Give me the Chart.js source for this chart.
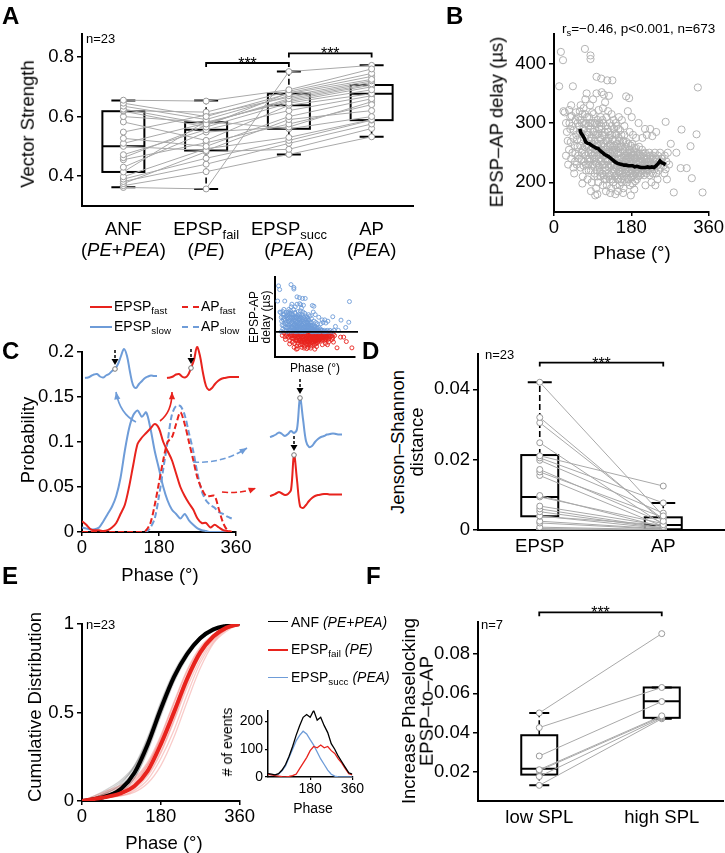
<!DOCTYPE html>
<html><head><meta charset="utf-8">
<script src="https://cdn.jsdelivr.net/npm/chart.js@4.4.1/dist/chart.umd.min.js"></script>
<style>
html,body{margin:0;padding:0;background:#fff;}
#root{position:relative;width:725px;height:853px;overflow:hidden;font-family:'Liberation Sans',Arial,sans-serif;color:#000;background:#fff;}
canvas{position:absolute;}
.t{position:absolute;white-space:nowrap;line-height:1;transform:translate(-50%,-50%);}
.l{position:absolute;white-space:nowrap;line-height:1;transform:translate(0,-50%);}
.r{position:absolute;white-space:nowrap;line-height:1;transform:translate(-50%,-50%) rotate(-90deg);text-align:center;}
.letter{position:absolute;font-weight:bold;font-size:24px;line-height:1;}
.ln{position:absolute;height:0;}
sub{font-size:0.7em;position:relative;top:0.3em;vertical-align:baseline;line-height:0;}
i{font-style:italic;}
</style></head>
<body><div id="root"></div>
<script>
// ===================== DATA =====================
// Panel A: vector strength, one entry per unit (n=23)
const aCategories = ['ANF', 'EPSP_fail', 'EPSP_succ', 'AP'];
const aANF  = [0.655,0.645,0.635,0.625,0.62,0.618,0.60,0.582,0.548,0.527,0.51,0.50,0.472,0.462,0.455,0.43,0.414,0.398,0.39,0.382,0.375,0.368,0.362];
const aFail = [0.652,0.60,0.59,0.575,0.615,0.565,0.581,0.52,0.605,0.50,0.578,0.486,0.556,0.57,0.512,0.548,0.585,0.492,0.46,0.44,0.482,0.415,0.357];
const aSucc = [0.69,0.677,0.67,0.66,0.685,0.645,0.65,0.638,0.665,0.60,0.655,0.59,0.62,0.68,0.575,0.565,0.559,0.53,0.52,0.51,0.49,0.473,0.751];
const aAP   = [0.76,0.725,0.72,0.71,0.745,0.69,0.70,0.677,0.715,0.66,0.706,0.62,0.67,0.735,0.64,0.65,0.60,0.59,0.588,0.575,0.56,0.532,0.772];
const aQ1  = [0.414,0.486,0.559,0.588];
const aMed = [0.500,0.556,0.638,0.677];
const aQ3  = [0.618,0.581,0.677,0.706];
const aLo  = [0.363,0.357,0.473,0.532];
const aHi  = [0.654,0.654,0.751,0.772];
const aYTicks = [0.4,0.6,0.8];
const aYLabels = ['0.4','0.6','0.8'];

// Panel B: EPSP-AP delay (µs) vs phase (°)
const bScatter = [
[22,320],[25,318],[28,300],[30,285],[32,270],[35,255],[38,310],[40,240],[42,295],[45,275],[45,225],[48,262],[50,305],[50,248],[35,322],[40,330],[28,245],[33,230],[47,215],[38,290],
[52,280],[55,300],[55,260],[58,240],[60,320],[60,285],[62,225],[63,270],[65,300],[65,250],[67,210],[68,290],[70,275],[70,235],[72,315],[72,260],[74,245],[75,300],[75,220],[77,280],[78,265],[78,205],[80,295],[80,250],[80,230],[57,310],[62,330],[69,325],[73,340],[76,350],[53,230],[66,198],
[82,310],[82,270],[83,240],[85,290],[85,255],[86,220],[88,300],[88,275],[88,200],[90,265],[90,245],[92,315],[92,230],[93,285],[94,210],[95,270],[95,250],[96,300],[97,235],[98,260],[98,190],[100,280],[100,245],[100,220],[102,305],[102,265],[103,200],[104,240],[105,290],[105,255],[106,225],[107,275],[108,210],[108,250],[110,295],[110,265],[110,235],[84,330],[91,340],[99,350],[104,322],[109,310],[86,185],[96,178],[101,180],
[112,280],[112,215],[113,250],[114,195],[115,300],[115,265],[116,230],[117,245],[118,285],[118,205],[120,270],[120,240],[120,220],[122,310],[122,255],[123,195],[124,235],[125,290],[125,260],[126,210],[127,245],[128,275],[128,225],[130,300],[130,250],[130,205],[132,265],[132,230],[133,190],[135,280],[135,245],[135,215],[137,260],[138,235],[138,200],[140,290],[140,250],[140,222],[114,325],[119,335],[126,320],[134,315],[139,305],[121,185],[131,182],[111,352],[116,348],[128,346],
[142,270],[142,210],[143,240],[144,195],[145,280],[145,255],[146,225],[147,265],[148,205],[148,240],[150,290],[150,250],[150,218],[152,270],[152,232],[153,195],[155,260],[155,240],[155,212],[157,280],[157,225],[158,200],[160,255],[160,235],[160,215],[162,270],[162,190],[163,245],[165,228],[165,205],[167,260],[167,238],[168,215],[170,250],[170,230],[170,200],[144,300],[151,310],[158,305],[164,295],[149,185],[161,182],[143,180],
[172,245],[172,218],[173,265],[174,205],[175,235],[175,225],[176,255],[177,195],[178,240],[178,215],[180,250],[180,230],[180,208],[182,265],[182,222],[183,198],[185,245],[185,232],[186,212],[187,258],[188,225],[189,202],[190,240],[190,218],[192,250],[192,230],[193,205],[195,245],[195,222],[196,210],[198,235],[198,260],[200,225],[200,212],[176,285],[184,280],[191,275],[197,300],[179,178],[187,188],[172,320],[181,310],
[202,245],[203,228],[204,215],[205,255],[206,235],[207,220],[208,242],[210,230],[210,212],[212,250],[213,225],[214,238],[215,215],[217,245],[218,228],[220,235],[220,220],[222,250],[223,212],[225,240],[226,225],[228,230],[230,245],[230,215],[232,232],[234,222],[235,250],[237,238],[238,215],[240,228],[242,245],[244,220],[245,235],[247,250],[248,225],[250,240],[206,275],[212,290],[216,280],[224,290],[229,278],[238,285],[213,195],[227,200],[241,205],[236,195],
[252,240],[255,228],[258,245],[260,222],[262,235],[265,250],[268,230],[257,215],[263,205],
[36,300],[39,268],[41,312],[43,250],[46,288],[49,235],[51,318],[54,272],[56,245],[59,295],[61,262],[61,305],[64,238],[64,282],[66,315],[67,255],[69,228],[71,298],[71,248],[73,278],[74,230],[76,262],[77,310],[79,240],[79,285],[81,220],[81,260],[84,300],[84,235],[86,270],[87,248],[89,318],[89,228],[91,285],[91,258],[93,240],[94,300],[95,215],[97,280],[97,255],[99,232],[99,298],[101,262],[101,210],[103,282],[104,228],[106,300],[106,248],[107,218],[109,272],[109,238],[111,290],[111,255],[113,230],[113,305],[115,245],[116,212],[117,278],[118,260],[119,225],[121,295],[121,248],[122,205],[123,270],[124,228],[126,285],[126,252],[127,215],[129,262],[129,238],[131,280],[131,212],[132,248],[134,228],[134,295],[136,255],[136,205],[137,272],[139,240],[139,218],[141,262],[141,230],[143,282],[144,212],[146,248],[146,295],[147,228],[149,258],[149,205],[151,240],[151,275],[153,218],[154,250],[154,288],[156,230],[156,205],[157,262],[159,242],[159,220],[161,268],[161,228],[163,210],[164,252],[164,280],[166,235],[166,215],[168,245],[169,268],[169,222],[171,238],[171,208],[173,250],[174,228],[176,242],[177,215],[179,262],[179,232],[181,220],[181,245],[183,210],[184,238],[186,252],[186,225],[188,240],[189,215],[191,232],[191,258],[193,222],[194,242],[196,230],[197,215],[199,248],[201,235],[201,218],[203,240],[205,228],[207,248],[209,222],[211,238],[214,228],[216,240],[219,222],[221,232],[224,245],[227,218],[231,238],[233,228],[239,240],[243,230],
[16,420],[21,406],[12,362],[44,362],[72,425],[85,414],[85,408],[99,378],[136,372],[168,345],[175,342],[260,302],[279,183],[295,224],[297,289],[309,224],[318,261],[321,207],[332,281],[335,360],[346,183],[110,375],[124,372],[285,250],[272,265]
];
const bLinePhase = [60,63,66,70,74,78,83,88,93,98,103,108,113,118,123,128,133,138,143,148,153,158,163,168,173,178,183,188,193,198,203,208,213,218,223,228,233,238,243,247,251,255,260];
const bLineDelay = [290,283,280,275,268,266,265,262,260,258,257,253,250,247,245,243,240,237,234,232,231,230,229,229,228,228,228,226,227,226,225,225,225,226,225,226,225,228,232,236,233,232,230];
const bXTicks = [0,180,360];
const bYTicks = [200,300,400];

// Panel C: phase probability distributions
const cPhase = [0,10,20,30,40,50,60,70,80,90,100,110,120,130,140,150,160,170,180,190,200,210,220,230,240,250,260,270,280,290,300,310,320,330,340,350];
const cEpspFast = [0.012,0.008,0.003,0.002,0.002,0.001,0.002,0.005,0.01,0.02,0.03,0.05,0.075,0.098,0.105,0.11,0.115,0.12,0.115,0.1,0.09,0.08,0.065,0.05,0.04,0.032,0.025,0.015,0.01,0.01,0.005,0.008,0.005,0.002,0.001,0];
const cEpspSlow = [0.005,0.004,0.003,0.003,0.005,0.012,0.02,0.028,0.04,0.06,0.09,0.115,0.13,0.135,0.128,0.133,0.115,0.09,0.07,0.05,0.035,0.025,0.02,0.015,0.02,0.013,0.008,0.004,0.002,0.001,0,0,0,0,0,0];
const cApFast = [0,0,0,0,0,0,0,0,0,0,0,0,0,0,0,0.002,0.01,0.03,0.055,0.08,0.1,0.105,0.12,0.133,0.12,0.1,0.08,0.06,0.048,0.04,0.04,0.04,0.025,0.01,0.002,0];
const cApSlow = [0,0,0,0,0,0,0,0,0,0,0,0,0,0,0,0,0.005,0.015,0.04,0.07,0.1,0.13,0.14,0.14,0.13,0.11,0.09,0.065,0.045,0.035,0.03,0.027,0.022,0.02,0.017,0.015];
const cYTicks = [0,0.05,0.1,0.15,0.2];
const cYLabels = ['0','0.05','0.1','0.15','0.2'];
const cInsetSplit = 244; // delay separating fast (red) from slow (blue)
// example membrane-potential traces (relative units, evenly sampled)
const traceSlowTop  = [0,0.5,2,3.5,4,1.5,0.5,2.5,4,7,9,14,22,29,22,6,-7,-10,-6,-3,0,1.5,2.5,2,2];
const traceFastTop  = [0,0.5,1.5,3.5,4,1.5,0.5,3,10,18,31,22,5,-8,-12,-10,-6,-3,-1,0,0.5,1,1,1,1];
const traceSlowRight= [0,1,2.5,4.5,3,1,3,6,4,8,39,18,-4,-10,-9,-5,-2,0,1,2.5,3,3.5,3,2.5,2.5];
const traceFastRight= [0,1,2.5,4,2.5,1,2,6,41,16,-10,-12,-9,-5,-2,0,1,1.5,2,2,1.5,1.5,1.5,1.5,1.5];

// Panel D: Jenson-Shannon distance, per unit
const dCategories = ['EPSP','AP'];
const dEPSP = [0.042,0.032,0.0305,0.0248,0.0211,0.0205,0.0198,0.0172,0.0165,0.0155,0.0098,0.0094,0.0068,0.006,0.0052,0.004,0.0039,0.0025,0.002,0.0008,0.0004,0.0002,0.0001];
const dAP   = [0.004,0.0025,0.003,0.0015,0.0125,0.0077,0.0048,0.002,0.0036,0.001,0.0008,0.0018,0.0012,0.0006,0.0005,0.0004,0.0014,0.0003,0.0002,0.0001,0.0001,0,0];
const dQ1 = [0.0039,0.0002], dMed = [0.0094,0.0014], dQ3 = [0.0213,0.0036], dLo = [0,0], dHi = [0.042,0.0077];
const dYTicks = [0,0.02,0.04];
const dYLabels = ['0','0.02','0.04'];

// Panel E: cumulative phase distributions
const ePhase = [0,30,60,90,120,150,180,210,240,270,300,330,360];
const eANFMean  = [0,0.01,0.03,0.07,0.16,0.32,0.52,0.70,0.83,0.92,0.97,0.99,1];
const eFailMean = [0,0.012,0.025,0.045,0.085,0.17,0.32,0.50,0.69,0.84,0.93,0.98,1];
const eANFUnits = [
 [0,0.02,0.05,0.10,0.20,0.36,0.56,0.73,0.85,0.93,0.97,0.99,1],
 [0,0.01,0.03,0.08,0.18,0.35,0.55,0.72,0.84,0.92,0.97,0.99,1],
 [0,0.02,0.04,0.06,0.13,0.28,0.48,0.67,0.81,0.91,0.96,0.99,1],
 [0,0.03,0.07,0.12,0.20,0.34,0.53,0.71,0.84,0.93,0.97,0.99,1],
 [0,0.01,0.02,0.05,0.13,0.29,0.50,0.69,0.83,0.92,0.97,0.99,1],
 [0,0.02,0.05,0.09,0.17,0.31,0.50,0.68,0.82,0.91,0.96,0.99,1],
 [0,0.01,0.03,0.07,0.15,0.30,0.49,0.68,0.82,0.91,0.96,0.99,1],
 [0,0.02,0.06,0.11,0.19,0.33,0.52,0.70,0.83,0.92,0.97,0.99,1]
];
const eFailUnits = [
 [0,0.01,0.02,0.04,0.08,0.16,0.30,0.48,0.67,0.82,0.92,0.97,1],
 [0,0.02,0.04,0.06,0.10,0.20,0.36,0.55,0.73,0.86,0.94,0.98,1],
 [0,0.01,0.02,0.03,0.06,0.12,0.24,0.40,0.60,0.78,0.90,0.97,1],
 [0,0.03,0.06,0.09,0.13,0.22,0.37,0.56,0.74,0.87,0.94,0.98,1],
 [0,0.01,0.02,0.04,0.07,0.14,0.27,0.45,0.64,0.80,0.91,0.97,1],
 [0,0.02,0.03,0.05,0.09,0.18,0.33,0.52,0.70,0.84,0.93,0.98,1],
 [0,0.01,0.02,0.03,0.05,0.10,0.20,0.36,0.56,0.75,0.89,0.96,1],
 [0,0.02,0.05,0.08,0.12,0.21,0.35,0.53,0.71,0.85,0.93,0.98,1],
 [0,0.01,0.03,0.05,0.08,0.15,0.28,0.46,0.66,0.82,0.92,0.97,1],
 [0,0.02,0.04,0.06,0.11,0.20,0.34,0.52,0.70,0.84,0.93,0.98,1]
];
const eHistPhase = [0,15,30,45,60,75,90,105,120,135,150,165,180,195,210,225,240,255,270,285,300,315,330,345,360];
const eHistANF  = [12,10,8,12,25,45,75,110,150,185,215,225,215,240,205,215,185,160,120,100,75,55,35,15,10];
const eHistSucc = [12,8,6,10,22,40,70,100,130,150,165,155,135,115,90,65,45,25,10,3,0,0,0,0,0];
const eHistFail = [10,8,5,3,1,0,2,5,10,30,50,70,95,110,105,115,105,110,95,85,65,50,30,12,8];

// Panel F: increase in phase-locking EPSP-to-AP
const fCategories = ['low SPL','high SPL'];
const fLow  = [0.05,0.0425,0.028,0.021,0.0205,0.0175,0.013];
const fHigh = [0.0905,0.063,0.0558,0.0485,0.048,0.0475,0.047];
const fQ1 = [0.0185,0.0475], fMed = [0.0215,0.056], fQ3 = [0.0386,0.063], fLo = [0.013,0.047], fHi = [0.05,0.063];
const fYTicks = [0.02,0.04,0.06,0.08];
const fYLabels = ['0.02','0.04','0.06','0.08'];

// ===================== SETUP =====================
const FONT = "'Liberation Sans', Arial, sans-serif";
Chart.defaults.font.family = FONT;
Chart.defaults.color = '#000';
Chart.defaults.animation = false;
Chart.defaults.responsive = false;
Chart.defaults.maintainAspectRatio = false;
Chart.defaults.devicePixelRatio = 1;
Chart.defaults.events = [];
Chart.defaults.plugins.legend.display = false;
Chart.defaults.plugins.tooltip.enabled = false;

const RED = '#e8231d', BLUE = '#6e9cd8', GRAY = '#a9a9a9';
const root = document.getElementById('root');

function mkCanvas(left, top, w, h) {
  const c = document.createElement('canvas');
  c.width = w; c.height = h;
  c.style.left = left + 'px'; c.style.top = top + 'px';
  c.style.width = w + 'px'; c.style.height = h + 'px';
  root.appendChild(c);
  return c;
}
function txt(html, x, y, size, cls, extra) {
  const d = document.createElement('div');
  d.className = cls || 't';
  d.innerHTML = html;
  d.style.left = x + 'px'; d.style.top = y + 'px'; d.style.fontSize = size + 'px';
  if (extra) d.style.cssText += extra;
  root.appendChild(d);
  return d;
}
function letter(ch, x, y) { const d = txt(ch, x, y, 24, 'letter'); return d; }
function legendLine(x, y, w, color, dashed, lw) {
  const d = document.createElement('div');
  d.className = 'ln';
  d.style.left = x + 'px'; d.style.top = (y - (lw||2)/2) + 'px'; d.style.width = w + 'px';
  d.style.borderTop = (lw||2) + 'px ' + (dashed ? 'dashed ' : 'solid ') + color;
  root.appendChild(d);
}
function linAxis(min, max, ticks, labels, size, fit, opts) {
  opts = opts || {};
  return {
    type: 'linear', min: min, max: max,
    afterBuildTicks: s => { s.ticks = ticks.map(v => ({ value: v })); },
    afterFit: s => { if (s.isHorizontal()) s.height = fit; else s.width = fit; },
    ticks: { display: opts.noLabels ? false : true, font: { size: size }, padding: opts.pad == null ? 3 : opts.pad,
             autoSkip: false, maxRotation: 0, callback: (v, i) => labels ? labels[i] : v },
    grid: { display: opts.noTicks ? false : true, drawOnChartArea: false, drawTicks: true,
            tickLength: opts.tl == null ? 5 : opts.tl, color: '#000', lineWidth: opts.tw || 1.5 },
    border: { display: true, color: '#000', width: opts.bw || 2 }
  };
}
function catAxis(labels, size, fit, showLabels, pad) {
  return {
    type: 'category', labels: labels, offset: true,
    afterFit: s => { s.height = fit; },
    ticks: { display: showLabels, font: { size: size }, padding: pad || 0, autoSkip: false, maxRotation: 0 },
    grid: { display: false, drawTicks: false },
    border: { display: true, color: '#000', width: 2 }
  };
}
// box-and-whisker drawing through the chart scales
function boxPlugin(q1, med, q3, lo, hi, half, cap) {
  return { id: 'boxes', beforeDatasetsDraw(chart) {
    const { ctx } = chart; const xs = chart.scales.x, ys = chart.scales.y;
    ctx.save(); ctx.strokeStyle = '#000';
    for (let i = 0; i < q1.length; i++) {
      const cx = xs.getPixelForValue(i);
      const yq1 = ys.getPixelForValue(q1[i]), yq3 = ys.getPixelForValue(q3[i]);
      const ym = ys.getPixelForValue(med[i]), ylo = ys.getPixelForValue(lo[i]), yhi = ys.getPixelForValue(hi[i]);
      ctx.lineWidth = 1.6; ctx.setLineDash([6, 3]);
      ctx.beginPath(); ctx.moveTo(cx, yq3); ctx.lineTo(cx, yhi); ctx.moveTo(cx, yq1); ctx.lineTo(cx, ylo); ctx.stroke();
      ctx.setLineDash([]); ctx.lineWidth = 2;
      ctx.beginPath(); ctx.moveTo(cx - cap, yhi); ctx.lineTo(cx + cap, yhi); ctx.moveTo(cx - cap, ylo); ctx.lineTo(cx + cap, ylo); ctx.stroke();
      ctx.strokeRect(cx - half, yq3, 2 * half, yq1 - yq3);
      ctx.beginPath(); ctx.moveTo(cx - half, ym); ctx.lineTo(cx + half, ym); ctx.stroke();
    }
    ctx.restore();
  } };
}
// significance brackets: [fromIndex, toIndex, yValue]
function bracketPlugin(list) {
  return { id: 'brackets', afterDraw(chart) {
    const { ctx } = chart; const xs = chart.scales.x, ys = chart.scales.y;
    ctx.save(); ctx.strokeStyle = '#000'; ctx.fillStyle = '#000'; ctx.lineWidth = 1.8;
    ctx.font = '16px ' + FONT; ctx.textAlign = 'center'; ctx.textBaseline = 'alphabetic';
    list.forEach(b => {
      const x1 = xs.getPixelForValue(b[0]), x2 = xs.getPixelForValue(b[1]), y = ys.getPixelForValue(b[2]);
      ctx.beginPath(); ctx.moveTo(x1, y + 4); ctx.lineTo(x1, y); ctx.lineTo(x2, y); ctx.lineTo(x2, y + 4); ctx.stroke();
      ctx.fillText('***', (x1 + x2) / 2, y + 6);
    });
    ctx.restore();
  } };
}
function pairedDatasets(groups) {
  const n = groups[0].length, out = [];
  for (let u = 0; u < n; u++) {
    out.push({ data: groups.map(g => g[u]), borderColor: GRAY, borderWidth: 1, tension: 0,
      pointRadius: 3, pointBackgroundColor: '#fff', pointBorderColor: '#9a9a9a', pointBorderWidth: 1 });
  }
  return out;
}

// ===================== PANEL A =====================
const cA = mkCanvas(36, 20, 390, 200);
const chartA = new Chart(cA, {
  type: 'line',
  data: { labels: aCategories, datasets: pairedDatasets([aANF, aFail, aSucc, aAP]) },
  options: {
    layout: { padding: { top: 13, right: 13, left: 0, bottom: 0 }, autoPadding: false },
    scales: { x: catAxis(aCategories, 18, 8, false), y: linAxis(0.3, 0.877, aYTicks, aYLabels, 18.5, 46) }
  },
  plugins: [boxPlugin(aQ1, aMed, aQ3, aLo, aHi, 21, 12), bracketPlugin([[1, 2, 0.78], [2, 3, 0.812]])]
});
{
  const xs = chartA.scales.x;
  const labs = [['ANF', '(<i>PE</i>+<i>PEA</i>)'], ['EPSP<sub>fail</sub>', '(<i>PE</i>)'], ['EPSP<sub>succ</sub>', '(<i>PE</i>A)'], ['AP', '(<i>PE</i>A)']];
  labs.forEach((l, i) => {
    const x = 36 + xs.getPixelForValue(i);
    txt(l[0], x, 229, 18.5); txt(l[1], x, 250, 18.5);
  });
}
txt('Vector Strength', 28, 124, 18.5, 'r');
txt('n=23', 86, 38, 13, 'l');
letter('A', 2, 4);

// ===================== PANEL B =====================
const cB = mkCanvas(495, 20, 230, 225);
new Chart(cB, {
  type: 'scatter',
  data: { datasets: [
    { type: 'line', data: bLinePhase.map((p, i) => ({ x: p, y: bLineDelay[i] })), borderColor: '#000', borderWidth: 3.6, pointRadius: 0, tension: 0 },
    { data: bScatter.map(p => ({ x: p[0], y: p[1] })), pointRadius: 3.6, pointBorderWidth: 1, pointBorderColor: '#b3b3b3', pointBackgroundColor: 'rgba(0,0,0,0)' }
  ] },
  options: {
    layout: { padding: { top: 12, right: 15, left: 0, bottom: 0 }, autoPadding: false },
    scales: {
      x: linAxis(0, 360, bXTicks, ['0', '180', '360'], 18.5, 33, { tl: 4, pad: 1 }),
      y: linAxis(150, 450, bYTicks, ['200', '300', '400'], 18.5, 59)
    }
  }
});
txt('EPSP–AP delay (µs)', 497, 122, 18.5, 'r');
txt('Phase (°)', 632, 253, 18.5);
txt('r<sub>s</sub>=−0.46, p&lt;0.001, n=673', 562, 29, 13.5, 'l');
letter('B', 446, 4);

// ===================== PANEL C =====================
const cArrows = [ // [x0,y0,cx,cy,x1,y1,color,dashed]
  [136, 422, 120, 414, 116, 392, BLUE, false],
  [160, 421, 172, 412, 172, 392, RED, false],
  [193, 462, 222, 464, 247, 448, BLUE, true],
  [222, 492, 240, 494, 256, 488, RED, true]
];
const cC = mkCanvas(0, 280, 360, 290);
new Chart(cC, {
  type: 'line',
  data: { datasets: [
    { data: cPhase.map((p, i) => ({ x: p, y: cEpspFast[i] })), borderColor: RED, borderWidth: 2, pointRadius: 0, tension: 0.3 },
    { data: cPhase.map((p, i) => ({ x: p, y: cApFast[i] })), borderColor: RED, borderWidth: 2, borderDash: [6, 3], pointRadius: 0, tension: 0.3 },
    { data: cPhase.map((p, i) => ({ x: p, y: cEpspSlow[i] })), borderColor: BLUE, borderWidth: 2, pointRadius: 0, tension: 0.3 },
    { data: cPhase.map((p, i) => ({ x: p, y: cApSlow[i] })), borderColor: BLUE, borderWidth: 2, borderDash: [6, 3], pointRadius: 0, tension: 0.3 }
  ] },
  options: {
    layout: { padding: { top: 72, right: 124, left: 0, bottom: 0 }, autoPadding: false },
    scales: {
      x: linAxis(0, 360, [0, 180, 360], ['0', '180', '360'], 18.5, 38, { tl: 4, pad: 1 }),
      y: linAxis(0, 0.2, cYTicks, cYLabels, 18.5, 82)
    }
  },
  plugins: [{ id: 'arrows', afterDraw(chart) {
    const ctx = chart.ctx; ctx.save(); ctx.lineWidth = 1.6;
    cArrows.forEach(a => {
      const oy = 280;
      ctx.strokeStyle = a[6]; ctx.fillStyle = a[6];
      ctx.setLineDash(a[7] ? [6, 3] : []);
      ctx.beginPath(); ctx.moveTo(a[0], a[1] - oy); ctx.quadraticCurveTo(a[2], a[3] - oy, a[4], a[5] - oy); ctx.stroke();
      ctx.setLineDash([]);
      const ang = Math.atan2(a[5] - a[3], a[4] - a[2]);
      ctx.beginPath(); ctx.moveTo(a[4], a[5] - oy);
      ctx.lineTo(a[4] - 8 * Math.cos(ang - 0.4), a[5] - oy - 8 * Math.sin(ang - 0.4));
      ctx.lineTo(a[4] - 8 * Math.cos(ang + 0.4), a[5] - oy - 8 * Math.sin(ang + 0.4));
      ctx.closePath(); ctx.fill();
    });
    ctx.restore();
  } }]
});
// traces
function traceChart(trace, marker, color, x0, baseY) {
  const c = mkCanvas(x0 - 4, baseY - 64, 80, 82);
  new Chart(c, {
    type: 'line',
    data: { labels: trace.map((_, i) => i), datasets: [{ data: trace, borderColor: color, borderWidth: 2, tension: 0.35,
      pointRadius: trace.map((_, i) => i === marker ? 2.3 : 0), pointBackgroundColor: '#fff', pointBorderColor: '#777', pointBorderWidth: 1 }] },
    options: { layout: { padding: 4, autoPadding: false },
      scales: { x: { type: 'category', display: false, offset: false }, y: { type: 'linear', min: -14, max: 60, display: false } } },
    plugins: [{ id: 'mark', afterDraw(chart) {
      const p = chart.getDatasetMeta(0).data[marker]; const ctx = chart.ctx;
      ctx.save(); ctx.strokeStyle = '#000'; ctx.fillStyle = '#000'; ctx.lineWidth = 1.5;
      ctx.setLineDash([3, 2]); ctx.beginPath(); ctx.moveTo(p.x, p.y - 19); ctx.lineTo(p.x, p.y - 10); ctx.stroke();
      ctx.setLineDash([]); ctx.beginPath(); ctx.moveTo(p.x - 3.5, p.y - 10); ctx.lineTo(p.x + 3.5, p.y - 10); ctx.lineTo(p.x, p.y - 4); ctx.closePath(); ctx.fill();
      ctx.restore();
    } }]
  });
}
traceChart(traceSlowTop, 10, BLUE, 85, 378);
traceChart(traceFastTop, 8, RED, 167, 378);
traceChart(traceSlowRight, 10, BLUE, 270, 437);
traceChart(traceFastRight, 8, RED, 270, 496);
// inset scatter
const cCi = mkCanvas(240, 272, 122, 100);
new Chart(cCi, {
  type: 'scatter',
  data: { datasets: [
    { data: bScatter.filter(p => p[1] >= cInsetSplit).map(p => ({ x: p[0], y: p[1] })), pointRadius: 2, pointBorderWidth: 0.9, pointBorderColor: BLUE, pointBackgroundColor: 'rgba(0,0,0,0)' },
    { data: bScatter.filter(p => p[1] < cInsetSplit).map(p => ({ x: p[0], y: p[1] })), pointRadius: 2, pointBorderWidth: 0.9, pointBorderColor: RED, pointBackgroundColor: 'rgba(0,0,0,0)' }
  ] },
  options: {
    layout: { padding: { top: 5, right: 7, left: 0, bottom: 0 }, autoPadding: false },
    scales: {
      x: linAxis(0, 360, [], [], 10, 15, { noLabels: true, noTicks: true }),
      y: linAxis(148, 454, [], [], 10, 35, { noLabels: true, noTicks: true })
    }
  },
  plugins: [{ id: 'split', afterDraw(chart) {
    const ctx = chart.ctx, y = chart.scales.y.getPixelForValue(cInsetSplit), a = chart.chartArea;
    ctx.save(); ctx.strokeStyle = '#000'; ctx.lineWidth = 1.6; ctx.beginPath(); ctx.moveTo(a.left, y); ctx.lineTo(a.right + 3, y); ctx.stroke(); ctx.restore();
  } }]
});
txt('EPSP-AP', 254, 317, 12, 'r');
txt('delay (µs)', 266, 317, 12, 'r');
txt('Phase (°)', 315, 368, 12);
// legend
legendLine(90, 307, 22, RED, false, 2); txt('EPSP<sub>fast</sub>', 114, 306, 14, 'l');
legendLine(182, 307, 17, RED, true, 2); txt('AP<sub>fast</sub>', 201, 306, 14, 'l');
legendLine(90, 327, 22, BLUE, false, 2); txt('EPSP<sub>slow</sub>', 114, 326, 14, 'l');
legendLine(182, 327, 17, BLUE, true, 2); txt('AP<sub>slow</sub>', 201, 326, 14, 'l');
txt('Probability', 28, 440, 18.5, 'r');
txt('Phase (°)', 160, 575, 18.5);
letter('C', 2, 339);

// ===================== PANEL D =====================
const cD = mkCanvas(420, 340, 305, 222);
new Chart(cD, {
  type: 'line',
  data: { labels: dCategories, datasets: pairedDatasets([dEPSP, dAP]) },
  options: {
    layout: { padding: { top: 12, right: 0, left: 0, bottom: 0 }, autoPadding: false },
    scales: { x: catAxis(dCategories, 18.5, 32, true, 6), y: linAxis(0, 0.05, dYTicks, dYLabels, 18.5, 58) }
  },
  plugins: [boxPlugin(dQ1, dMed, dQ3, dLo, dHi, 18.5, 12), bracketPlugin([[0, 1, 0.0476]])]
});
txt('Jenson–Shannon', 398, 442, 18.5, 'r');
txt('distance', 417, 442, 18.5, 'r');
txt('n=23', 485, 354, 13, 'l');
letter('D', 362, 339);

// ===================== PANEL E =====================
const cE = mkCanvas(30, 610, 226, 220);
const eSets = [];
eSets.push({ data: ePhase.map((p, i) => ({ x: p, y: eFailMean[i] })), borderColor: RED, borderWidth: 4, pointRadius: 0, cubicInterpolationMode: 'monotone' });
eSets.push({ data: ePhase.map((p, i) => ({ x: p, y: eANFMean[i] })), borderColor: '#000', borderWidth: 4, pointRadius: 0, cubicInterpolationMode: 'monotone' });
eFailUnits.forEach(u => eSets.push({ data: ePhase.map((p, i) => ({ x: p, y: u[i] })), borderColor: 'rgba(235,70,60,0.28)', borderWidth: 1.3, pointRadius: 0, cubicInterpolationMode: 'monotone' }));
eANFUnits.forEach(u => eSets.push({ data: ePhase.map((p, i) => ({ x: p, y: u[i] })), borderColor: 'rgba(70,70,70,0.25)', borderWidth: 1.3, pointRadius: 0, cubicInterpolationMode: 'monotone' }));
new Chart(cE, {
  type: 'line',
  data: { datasets: eSets },
  options: {
    layout: { padding: { top: 13, right: 10, left: 0, bottom: 0 }, autoPadding: false },
    scales: {
      x: linAxis(0, 360, [0, 180, 360], ['0', '180', '360'], 18.5, 29, { tl: 4, pad: 1 }),
      y: linAxis(0, 1, [0, 0.5, 1], ['0', '0.5', '1'], 18.5, 52)
    }
  }
});
txt('Cumulative Distribution', 35, 707, 18.5, 'r');
txt('Phase (°)', 164, 843, 18.5);
txt('n=23', 86, 624, 13, 'l');
legendLine(268, 622, 20, '#000', false, 1.5); txt('ANF <i>(PE+PEA)</i>', 291, 622, 14, 'l');
legendLine(268, 650, 20, RED, false, 2); txt('EPSP<sub>fail</sub> <i>(PE)</i>', 291, 649, 14, 'l');
legendLine(268, 678, 20, BLUE, false, 1.5); txt('EPSP<sub>succ</sub> <i>(PEA)</i>', 291, 677, 14, 'l');
// inset histogram
const cEi = mkCanvas(225, 700, 140, 100);
new Chart(cEi, {
  type: 'line',
  data: { datasets: [
    { data: eHistPhase.map((p, i) => ({ x: p, y: eHistANF[i] })), borderColor: '#000', borderWidth: 1.3, pointRadius: 0, tension: 0 },
    { data: eHistPhase.map((p, i) => ({ x: p, y: eHistFail[i] })), borderColor: RED, borderWidth: 1.3, pointRadius: 0, tension: 0 },
    { data: eHistPhase.map((p, i) => ({ x: p, y: eHistSucc[i] })), borderColor: BLUE, borderWidth: 1.3, pointRadius: 0, tension: 0 }
  ] },
  options: {
    layout: { padding: { top: 7, right: 7, left: 0, bottom: 0 }, autoPadding: false },
    scales: {
      x: linAxis(0, 360, [180, 360], ['180', '360'], 14, 23, { tl: 3, pad: 1, bw: 1.5, tw: 1.2 }),
      y: linAxis(0, 240, [0, 100, 200], ['0', '100', '200'], 14, 43, { tl: 3, pad: 2, bw: 1.5, tw: 1.2 })
    }
  }
});
txt('# of events', 227, 742, 14, 'r');
txt('Phase', 313, 808, 14);
letter('E', 2, 564);

// ===================== PANEL F =====================
const cF = mkCanvas(420, 605, 305, 225);
new Chart(cF, {
  type: 'line',
  data: { labels: fCategories, datasets: pairedDatasets([fLow, fHigh]) },
  options: {
    layout: { padding: { top: 16.7, right: 2, left: 0, bottom: 0 }, autoPadding: false },
    scales: { x: catAxis(fCategories, 18.5, 29.3, true, 6), y: linAxis(0.00516, 0.0966, fYTicks, fYLabels, 18.5, 58) }
  },
  plugins: [boxPlugin(fQ1, fMed, fQ3, fLo, fHi, 18, 10), bracketPlugin([[0, 1, 0.1014]])]
});
txt('Increase Phaselocking', 409, 711, 18.5, 'r');
txt('EPSP–to–AP', 427, 711, 18.5, 'r');
txt('n=7', 481, 624, 13, 'l');
letter('F', 366, 564);
</script>
</body></html>
